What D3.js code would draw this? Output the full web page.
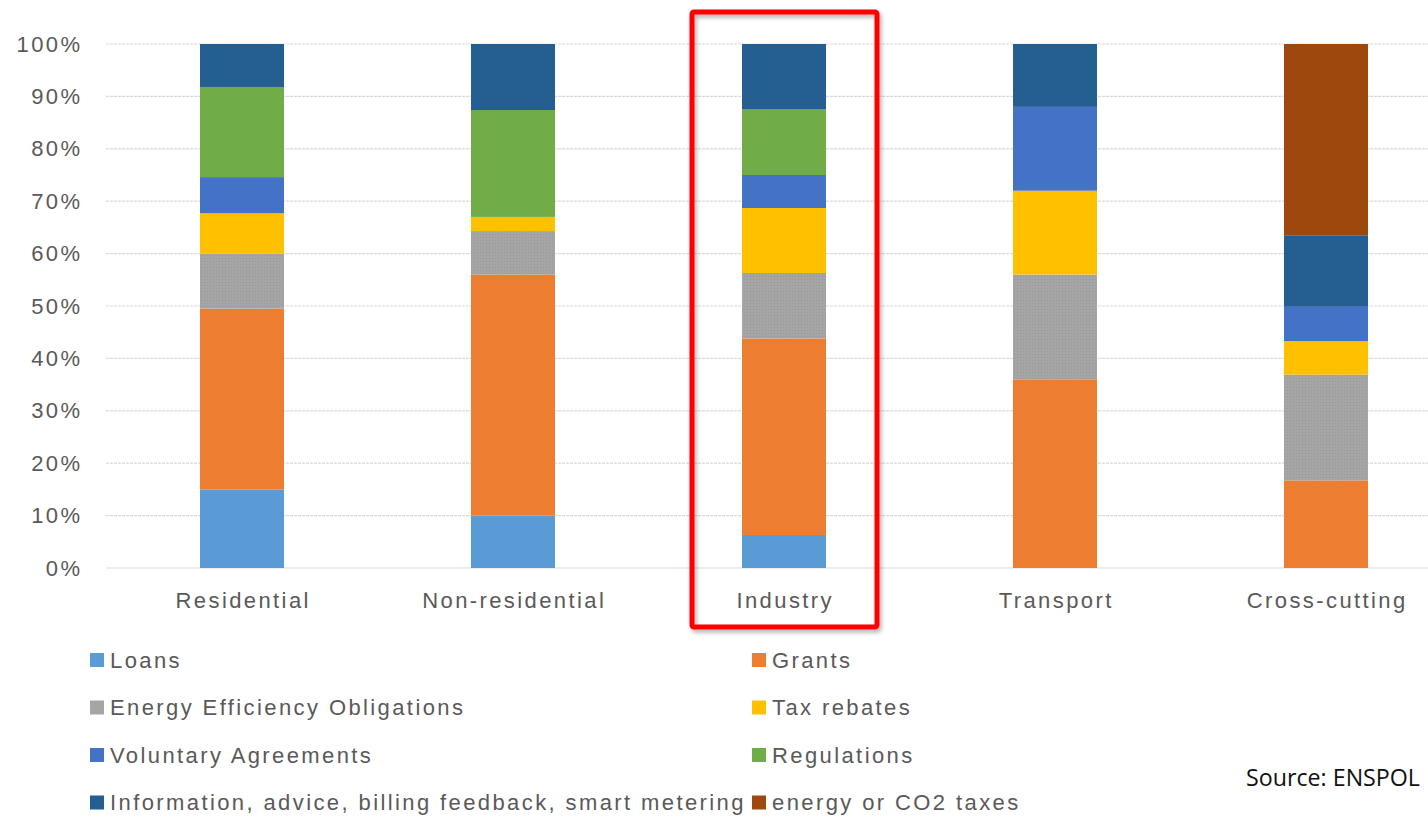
<!DOCTYPE html>
<html>
<head>
<meta charset="utf-8">
<script src="https://cdn.jsdelivr.net/npm/d3@7"></script>
<style>
  body { margin: 0; background: #fff; }
  svg { display: block; }
</style>
</head>
<body>
<div id="chart"></div>
<script>
// sectors on the x axis
var categories = ["Residential", "Non-residential", "Industry", "Transport", "Cross-cutting"];

// share of measures per instrument (percent), bottom to top
var seriesNames = ["Loans", "Grants", "Energy Efficiency Obligations", "Tax rebates",
    "Voluntary Agreements", "Regulations", "Information, advice, billing feedback, smart metering",
    "energy or CO2 taxes"];
var loans       = [15,   10,   6.3,  0,  0];
var grants      = [34.5, 46,   37.5, 36, 16.7];
var obligations = [10.5, 8.3,  12.5, 20, 20.2];
var taxRebates  = [7.7,  2.7,  12.4, 16, 6.4];
var voluntary   = [6.9,  0,    6.3,  16, 6.7];
var regulations = [17.2, 20.4, 12.5, 0,  0];
var information = [8.2,  12.6, 12.5, 12, 13.5];
var co2Taxes    = [0,    0,    0,    0,  36.5];

var yTicks = [0, 10, 20, 30, 40, 50, 60, 70, 80, 90, 100];
var highlighted = "Industry";
var sourceNote = "Source: ENSPOL";

var colors = ["#5B9BD5", "#ED7D31", "#A5A5A5", "#FFC000", "#4472C4", "#70AD47", "#255E91", "#9E480E"];

var width = 1428, height = 820;
var labelFont = "Liberation Sans, Arial, sans-serif";
var spacing = 2.4; // the original text looks stretched sideways
var allSeries = [loans, grants, obligations, taxRebates, voluntary, regulations, information, co2Taxes];

// build rows for d3.stack
var rows = categories.map(function (c, i) {
    var row = { category: c };
    seriesNames.forEach(function (s, j) { row[s] = allSeries[j][i]; });
    return row;
});
var stacked = d3.stack().keys(seriesNames)(rows);

var svg = d3.select("#chart").append("svg")
    .attr("width", width)
    .attr("height", height);

var defs = svg.append("defs");
// fine dotted texture for the obligations bars
var pat = defs.append("pattern")
    .attr("id", "eeo")
    .attr("width", 3).attr("height", 3)
    .attr("patternUnits", "userSpaceOnUse");
pat.append("rect").attr("width", 3).attr("height", 3).attr("fill", "#A5A5A5");
pat.append("rect").attr("width", 1).attr("height", 1).attr("fill", "#979797");

var shadow = defs.append("filter").attr("id", "shadow")
    .attr("x", "-10%").attr("y", "-10%").attr("width", "120%").attr("height", "120%");
shadow.append("feDropShadow")
    .attr("dx", 2).attr("dy", 3).attr("stdDeviation", 2)
    .attr("flood-color", "#000").attr("flood-opacity", 0.3);

var x = d3.scaleBand()
    .domain(categories)
    .range([106.5, 1461.5])
    .paddingInner(0.69)
    .paddingOuter(0.345);

var y = d3.scaleLinear()
    .domain([0, 100])
    .range([568, 44]);

// gridlines
svg.append("g")
    .selectAll("line")
    .data(yTicks)
    .enter()
    .append("line")
    .attr("x1", 106).attr("x2", width)
    .attr("y1", function (d) { return y(d); })
    .attr("y2", function (d) { return y(d); })
    .attr("stroke", "#d9d9d9")
    .attr("stroke-width", 1.2)
    .attr("stroke-dasharray", function (d) { return d === 0 ? null : "3,1"; });

// y axis
var yAxis = svg.append("g")
    .attr("transform", "translate(" + (80 + spacing) + ",0)")
    .call(d3.axisLeft(y).tickValues(yTicks).tickSize(0).tickPadding(0)
        .tickFormat(function (d) { return d + "%"; }));
yAxis.select(".domain").remove();
yAxis.selectAll("text")
    .attr("font-family", labelFont)
    .attr("font-size", 22)
    .attr("letter-spacing", spacing)
    .attr("fill", "#595959");

// bars
svg.append("g")
    .selectAll("g")
    .data(stacked)
    .enter()
    .append("g")
    .attr("fill", function (d, i) { return i === 2 ? "url(#eeo)" : colors[i]; })
    .selectAll("rect")
    .data(function (d) { return d.filter(function (p) { return p[1] - p[0] > 0; }); })
    .enter()
    .append("rect")
    .attr("x", function (d) { return x(d.data.category); })
    .attr("width", x.bandwidth())
    .attr("y", function (d) { return y(d[1]); })
    .attr("height", function (d) { return y(d[0]) - y(d[1]); });

// x axis labels
var xAxis = svg.append("g")
    .attr("transform", "translate(" + (spacing / 2) + "," + y(0) + ")")
    .call(d3.axisBottom(x).tickSize(0).tickPadding(24));
xAxis.select(".domain").remove();
xAxis.selectAll("text")
    .attr("font-family", labelFont)
    .attr("font-size", 22)
    .attr("letter-spacing", spacing)
    .attr("fill", "#595959");

// highlight box
var hx = x(highlighted) + x.bandwidth() / 2;
svg.append("rect")
    .attr("x", hx - 92)
    .attr("y", 12)
    .attr("width", 185)
    .attr("height", 615)
    .attr("fill", "none")
    .attr("stroke", "#ff0000")
    .attr("stroke-width", 5)
    .attr("rx", 2)
    .attr("filter", "url(#shadow)");

// legend, two columns
var legend = svg.append("g")
    .selectAll("g")
    .data(seriesNames)
    .enter()
    .append("g")
    .attr("transform", function (d, i) {
        var col = i % 2, row = Math.floor(i / 2);
        return "translate(" + (col === 0 ? 90 : 752) + "," + (660 + row * 47.5) + ")";
    });
legend.append("rect")
    .attr("x", 0).attr("y", -7)
    .attr("width", 14).attr("height", 14)
    .attr("fill", function (d, i) { return colors[i]; });
legend.append("text")
    .attr("x", 20)
    .attr("dy", "0.36em")
    .attr("font-family", labelFont)
    .attr("font-size", 22)
    .attr("letter-spacing", spacing)
    .attr("fill", "#595959")
    .text(function (d) { return d; });

svg.append("text")
    .attr("x", 1246)
    .attr("y", 786)
    .attr("textLength", 174)
    .attr("lengthAdjust", "spacingAndGlyphs")
    .attr("font-family", "Open Sans, Noto Sans, sans-serif")
    .attr("font-size", 24)
    .attr("fill", "#111")
    .text(sourceNote);
</script>
</body>
</html>
